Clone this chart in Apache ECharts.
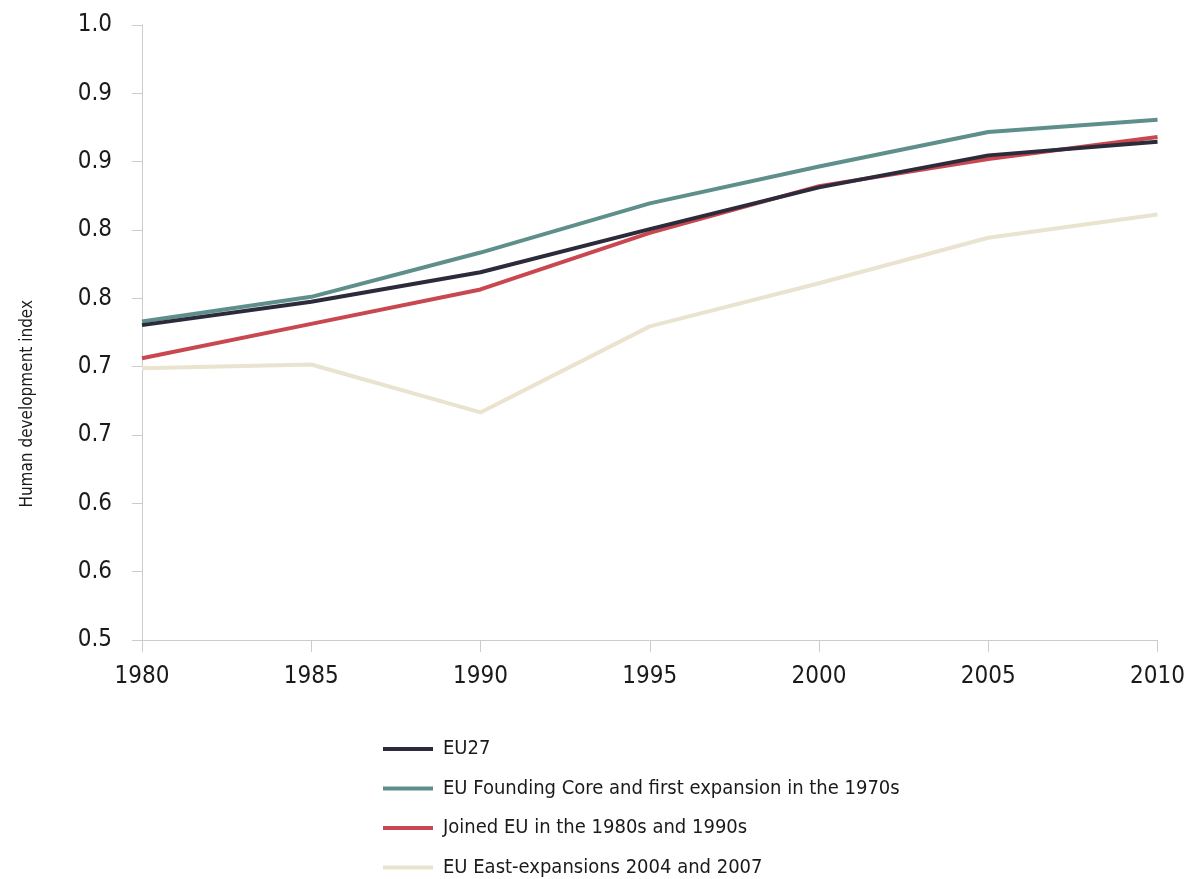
<!DOCTYPE html>
<html>
<head>
<meta charset="utf-8">
<script src="https://cdn.jsdelivr.net/npm/echarts@6/dist/echarts.min.js"></script>
<style>
  html, body { margin: 0; padding: 0; background: #fff; }
  #chart { width: 1188px; height: 879px; }
</style>
</head>
<body>
<div id="chart"></div>
<script>
// years on the x axis
var years = ['1980', '1985', '1990', '1995', '2000', '2005', '2010'];

// series names
var seriesNames = [
  'EU27',
  'EU Founding Core and first expansion in the 1970s',
  'Joined EU in the 1980s and 1990s',
  'EU East-expansions 2004 and 2007'
];

// HDI values
var eu27 = [0.756, 0.775, 0.799, 0.834, 0.868, 0.894, 0.905];
var foundingCore = [0.759, 0.779, 0.815, 0.855, 0.885, 0.913, 0.923];
var joined8090 = [0.729, 0.757, 0.785, 0.831, 0.869, 0.891, 0.909];
var eastExp = [0.721, 0.724, 0.685, 0.755, 0.790, 0.827, 0.846];

var colors = ['#2b2b3b', '#5f8f8b', '#c9474f', '#e9e3cf'];
var font = '"DejaVu Sans Condensed", "DejaVu Sans", sans-serif';

var myChart = echarts.init(document.getElementById('chart'));

function makeLine(name, data, color) {
  return {
    name: name,
    type: 'line',
    data: data,
    symbol: 'none',
    lineStyle: { color: color, width: 4 },
    itemStyle: { color: color }
  };
}

var option = {
  animation: false,
  color: colors,
  grid: {
    left: 142,
    right: 28,
    top: 25,
    bottom: 239
  },
  xAxis: {
    type: 'category',
    data: years,
    boundaryGap: false,
    axisLine: { lineStyle: { color: '#cccccc', width: 1 } },
    axisTick: { show: true, length: 12, lineStyle: { color: '#cccccc' } },
    axisLabel: {
      color: '#1a1a1a',
      fontSize: 24,
      fontFamily: font,
      margin: 25
    },
    splitLine: { show: false }
  },
  yAxis: {
    type: 'value',
    min: 0.5,
    max: 1,
    interval: 1 / 18,
    axisLine: { show: true, lineStyle: { color: '#cccccc', width: 1 } },
    axisTick: { show: true, length: 10, lineStyle: { color: '#cccccc' } },
    axisLabel: {
      color: '#1a1a1a',
      fontSize: 24,
      fontFamily: font,
      margin: 30,
      formatter: function (v) { return v.toFixed(1); }
    },
    splitLine: { show: false }
  },
  legend: {
    orient: 'vertical',
    left: 383,
    top: 737,
    height: 200,
    padding: 0,
    itemWidth: 50,
    itemHeight: 4,
    itemGap: 15.5,
    icon: 'rect',
    data: seriesNames,
    textStyle: {
      color: '#1a1a1a',
      fontSize: 20,
      lineHeight: 24,
      fontFamily: font,
      padding: [0, 0, 0, 5]
    }
  },
  graphic: [{
    type: 'text',
    left: 19,
    top: 300,
    rotation: Math.PI / 2,
    style: {
      text: 'Human development index',
      fill: '#1a1a1a',
      font: '17px ' + font
    }
  }],
  series: [
    makeLine(seriesNames[3], eastExp, colors[3]),
    makeLine(seriesNames[2], joined8090, colors[2]),
    makeLine(seriesNames[1], foundingCore, colors[1]),
    makeLine(seriesNames[0], eu27, colors[0])
  ]
};

myChart.setOption(option);
</script>
</body>
</html>
